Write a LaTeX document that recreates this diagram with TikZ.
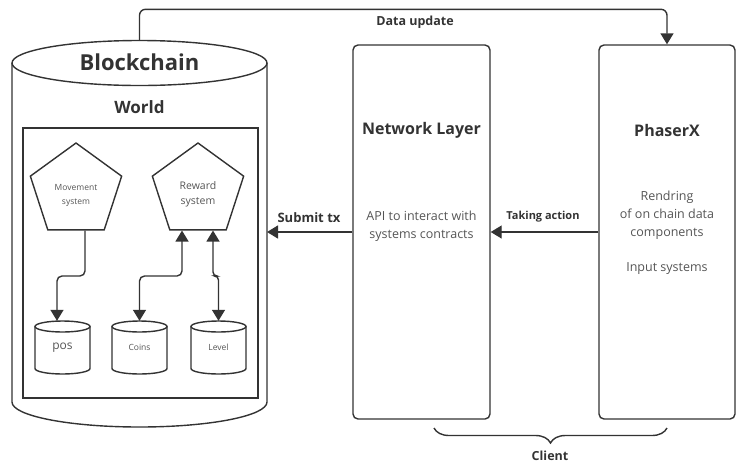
\documentclass[tikz,border=0pt]{standalone}
\usepackage{fontspec}
\setmainfont{Open Sans}
\usetikzlibrary{arrows.meta,shapes.geometric,decorations.pathreplacing}
\definecolor{ink}{HTML}{333333}
\definecolor{soft}{HTML}{555555}
\tikzset{
    wire/.style={draw=ink, line width=1.4pt},
    arr/.style={wire, -{Triangle[width=13pt,length=11pt]}},
    darr/.style={wire, {Triangle[width=13pt,length=11pt]}-{Triangle[width=13pt,length=11pt]}},
    panel/.style={wire, rounded corners=5pt, minimum width=137pt, minimum height=374pt, inner sep=0pt},
    penta/.style={wire, regular polygon, regular polygon sides=5, minimum size=96pt, inner sep=0pt},
    pentext/.style={align=center, text=soft, font=\fontsize{8.5}{14}\selectfont},
    store/.style={minimum width=55pt, minimum height=53pt, inner sep=0pt, text=soft,
        font=\fontsize{8.5}{10}\selectfont},
    heading/.style={text=ink, font=\bfseries\fontsize{16}{19}\selectfont},
    tag/.style={text=ink, font=\bfseries\fontsize{12.5}{15}\selectfont},
    body/.style={text=soft, align=center, font=\fontsize{12.5}{18}\selectfont},
}
\begin{document}
\begin{tikzpicture}[x=1pt,y=-1pt]
    \useasboundingbox (0,0) rectangle (745,467);
    % blockchain side
    \draw[wire] (12,63) -- (12,402) arc[start angle=180, end angle=0, x radius=127.5, y radius=25] -- (267,63);
    \draw[wire] (139.5,63) ellipse [x radius=127.5, y radius=22.5];
    \coordinate (bctop) at (139.5,40.5);
    \coordinate (bcside) at (267,232);
    \node[text=ink, font=\bfseries\fontsize{22}{26}\selectfont] (bctitle) at (139.5,62) {Blockchain};
    \node[heading, font=\bfseries\fontsize{17}{20}\selectfont] (worldtitle) at (139.5,107) {World};
    \node[wire, minimum width=235pt, minimum height=270pt, inner sep=0pt] (world) at (140.5,263) {};
    \node[penta] (mov) at (76,191) {};
    \node[penta] (rew) at (198,191) {};
    \node[pentext] (movtext) at (76,195) {Movement\\system};
    \node[pentext, font=\fontsize{10.5}{15}\selectfont] (rewtext) at (198,194) {Reward\\system};
    \foreach \cx in {62.5,139.5,218.5} {
        \draw[wire] (\cx-27.5,326.5) -- (\cx-27.5,368.5) arc[start angle=180, end angle=0, x radius=27.5, y radius=5.5] -- (\cx+27.5,326.5);
        \draw[wire] (\cx,326.5) ellipse [x radius=27.5, y radius=5.5];
    }
    \node[store, font=\fontsize{12}{14}\selectfont] (pos) at (62.5,347.5) {pos};
    \node[store] (coins) at (139.5,347.5) {Coins};
    \node[store] (level) at (218.5,347.5) {Level};
    \coordinate (bendrow) at (0,276);
    \coordinate (movbend) at (57,276);
    \draw[arr, rounded corners=5pt] ([xshift=9pt]mov.south) |- (movbend) -- (movbend |- pos.north);
    \draw[darr, rounded corners=5pt] ([xshift=-16pt]rew.south) |- (coins.north |- bendrow) -- (coins.north);
    \draw[darr, rounded corners=4pt] ([xshift=15pt]rew.south) |- (level.north |- bendrow) -- (level.north);
    % client side
    \node[panel] (nl) at (421.5,232) {};
    \node[panel, minimum width=136pt] (px) at (667,232) {};
    \node[heading] (nltitle) at (421.5,130) {Network Layer};
    \node[body] (nltext) at (421.5,226) {API to interact with\\systems contracts};
    \node[heading] (pxtitle) at (667,130) {PhaserX};
    \node[body] (pxtext) at (667,215) {Rendring\\of on chain data\\components};
    \node[body] (pxinput) at (667,269) {Input systems};
    % flows
    \draw[arr, rounded corners=6pt] (bctop) |- ([yshift=35pt]px.north) -- (px.north);
    \node[tag] (dulabel) at (415,22) {Data update};
    \draw[arr] (px.west) -- (nl.east);
    \node[tag, font=\bfseries\fontsize{11}{13}\selectfont] (talabel) at (543,217) {Taking action};
    \draw[arr] (nl.west) -- (nl.west -| bcside);
    \node[tag, font=\bfseries\fontsize{13}{15}\selectfont] (stlabel) at (309,218) {Submit tx};
    % client brace
    \coordinate (cl) at (434,428);
    \coordinate (cr) at (667,428);
    \draw[wire, decorate, decoration={brace, mirror, amplitude=15pt}] (cl) -- (cr);
    \node[tag] (client) at (550,456) {Client};
\end{tikzpicture}
\end{document}
